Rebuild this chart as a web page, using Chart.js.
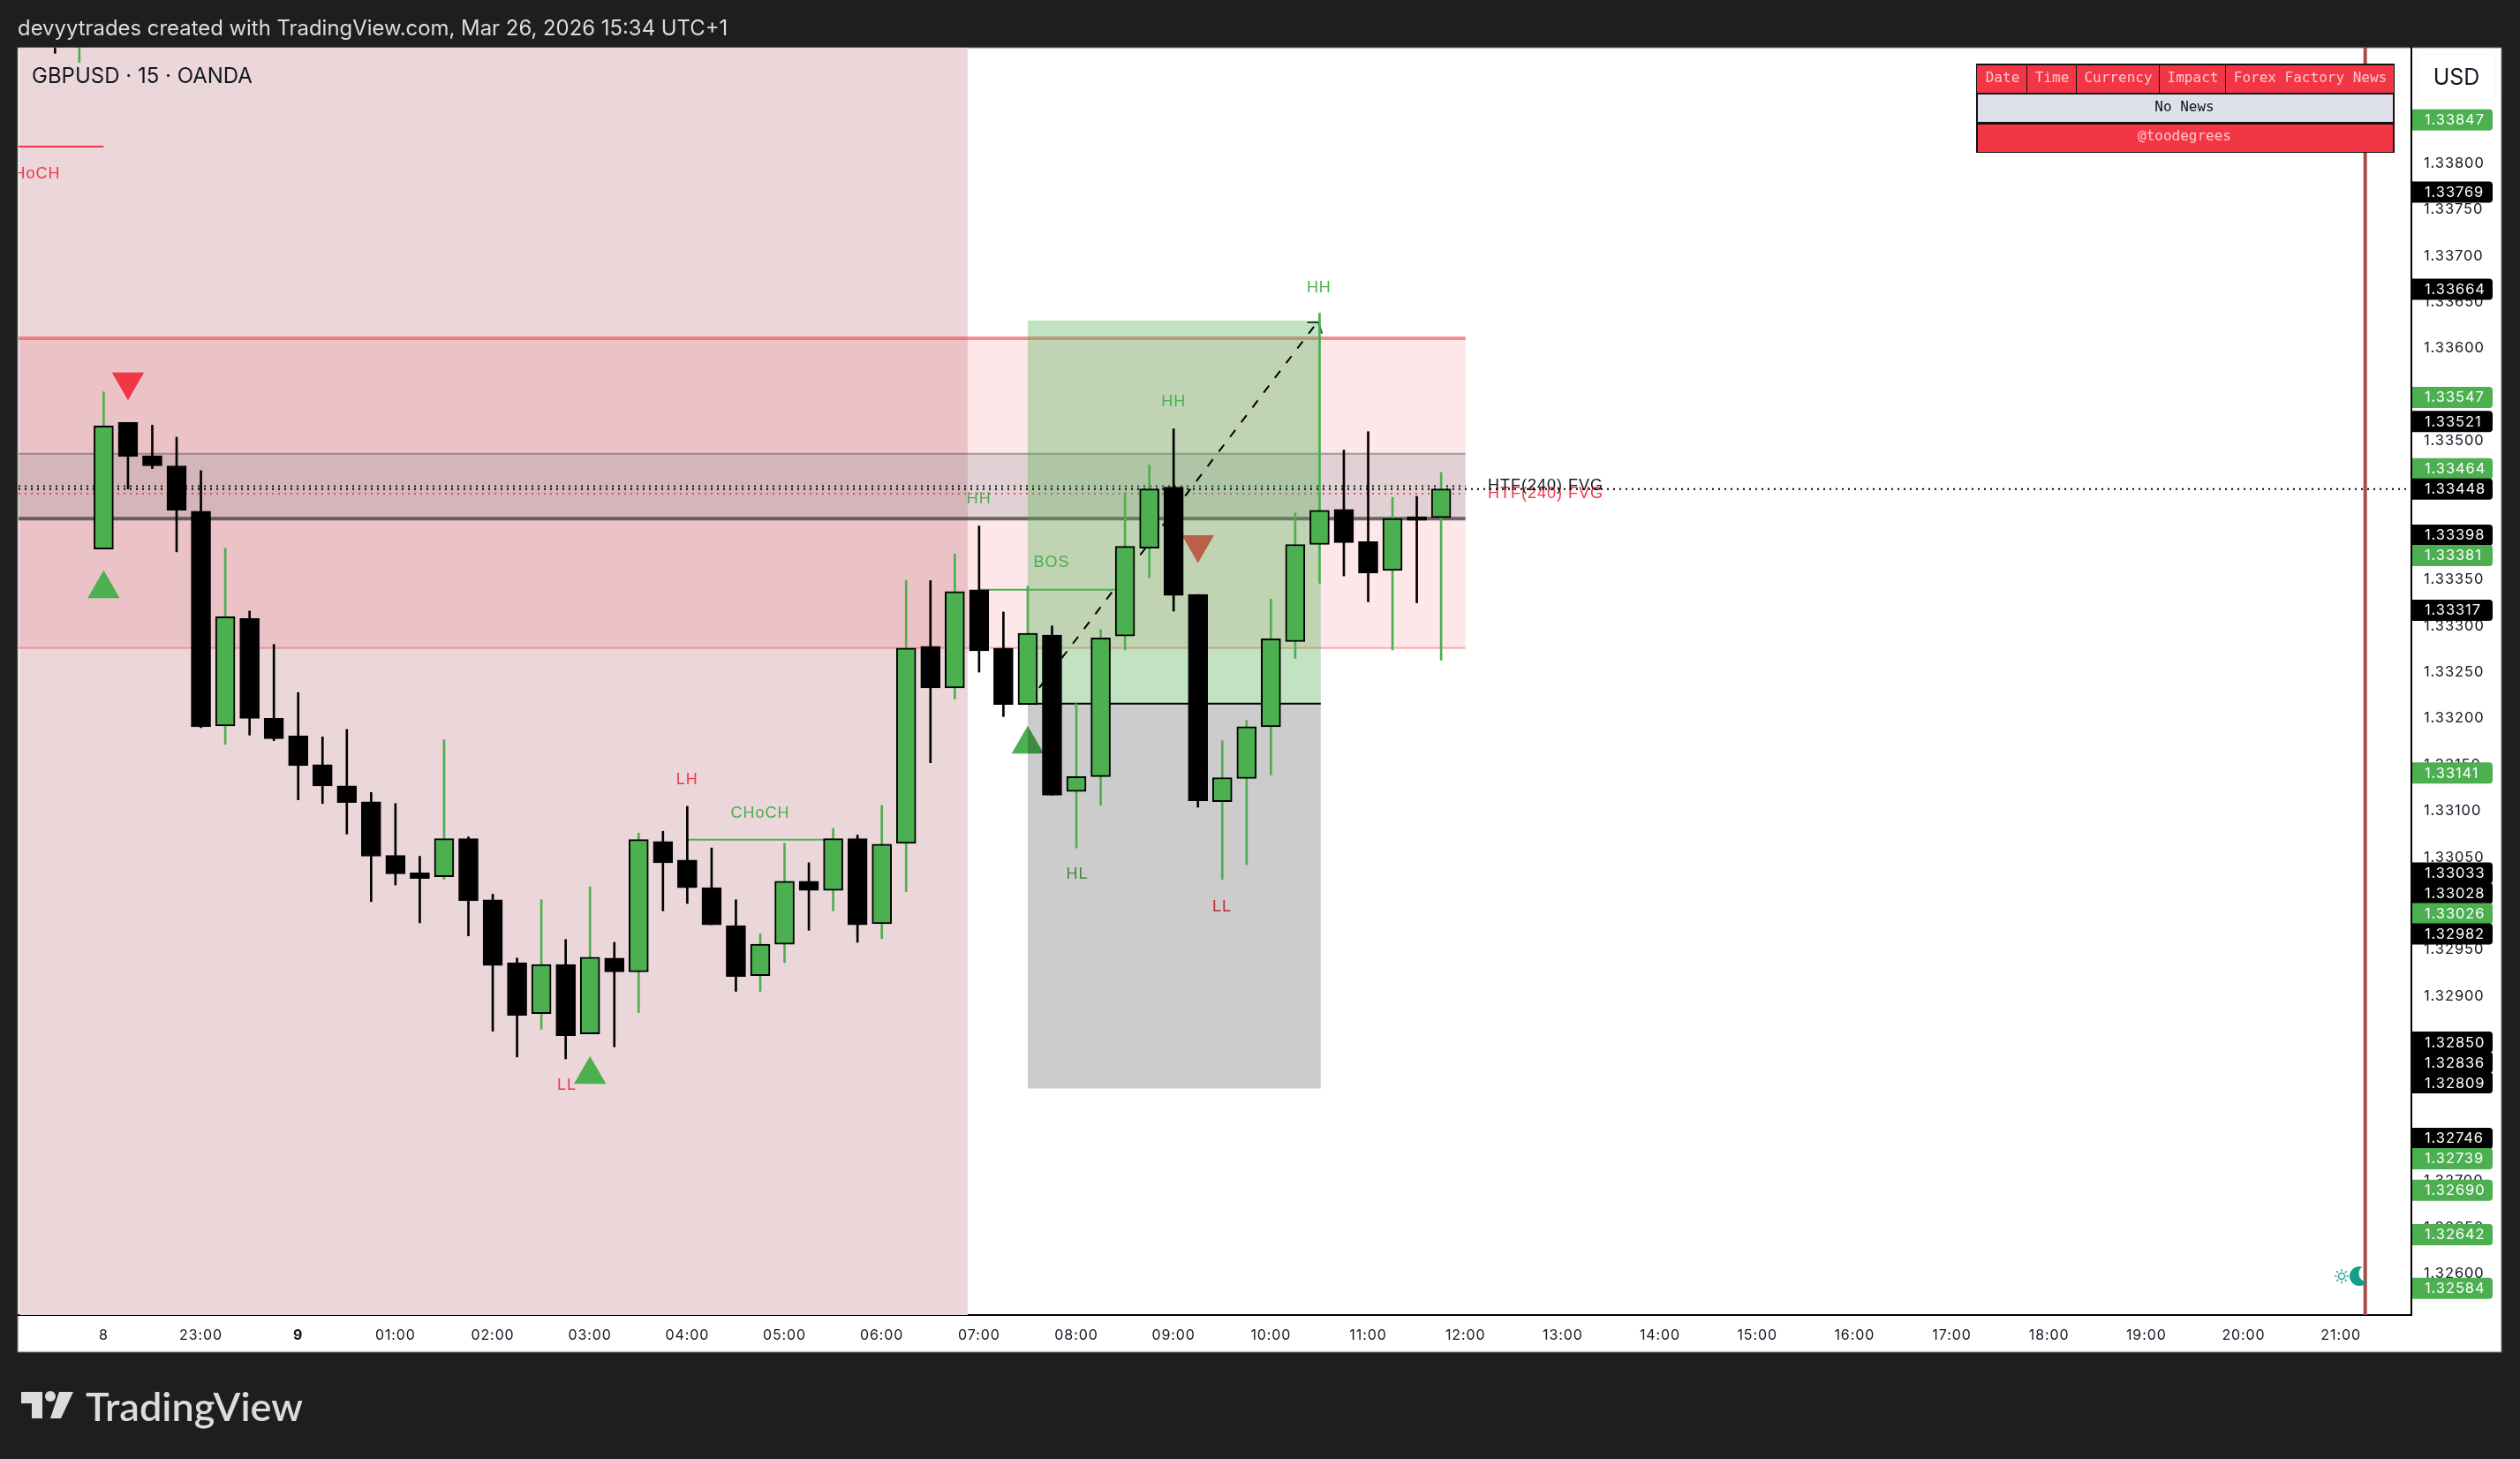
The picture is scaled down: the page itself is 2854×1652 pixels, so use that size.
<!DOCTYPE html>
<html>
<head>
<meta charset="utf-8">
<title>GBPUSD 15 OANDA</title>
<script src="https://cdn.jsdelivr.net/npm/chart.js@4/dist/chart.umd.min.js"></script>
<style>
  html, body { margin: 0; padding: 0; background: #1e1e1e; }
  canvas { display: block; }
</style>
</head>
<body>
<canvas id="chart" width="2854" height="1652"></canvas>
<script>
// first bar index of the arrays below (two bars hang off the top of the pane)
const FIRST_BAR = -2;

const opens = [1.33960, 1.33930, 1.33383, 1.33520, 1.33484, 1.33473, 1.33424, 1.33192, 1.33308, 1.33200, 1.33181, 1.33150,
  1.33127, 1.33110, 1.33052, 1.33033, 1.33029, 1.33070, 1.33004, 1.32936, 1.32881, 1.32934, 1.32859, 1.32941,
  1.32926, 1.33067, 1.33047, 1.33017, 1.32976, 1.32922, 1.32956, 1.33024, 1.33014, 1.33070, 1.32978, 1.33065,
  1.33278, 1.33233, 1.33339, 1.33276, 1.33215, 1.33290, 1.33121, 1.33137, 1.33289, 1.33384, 1.33450, 1.33334,
  1.33110, 1.33135, 1.33191, 1.33283, 1.33388, 1.33426, 1.33391, 1.33360, 1.33418, 1.33417];
const highs = [1.33970, 1.33980, 1.33553, 1.33520, 1.33517, 1.33504, 1.33468, 1.33384, 1.33316, 1.33280, 1.33228, 1.33180,
  1.33188, 1.33120, 1.33108, 1.33051, 1.33177, 1.33072, 1.33010, 1.32941, 1.33004, 1.32961, 1.33018, 1.32958,
  1.33076, 1.33078, 1.33105, 1.33060, 1.33004, 1.32967, 1.33065, 1.33044, 1.33081, 1.33074, 1.33106, 1.33349,
  1.33349, 1.33378, 1.33408, 1.33315, 1.33343, 1.33300, 1.33216, 1.33296, 1.33444, 1.33474, 1.33513, 1.33334,
  1.33176, 1.33198, 1.33329, 1.33422, 1.33638, 1.33490, 1.33510, 1.33439, 1.33440, 1.33466];
const lows = [1.33919, 1.33909, 1.33383, 1.33448, 1.33470, 1.33380, 1.33190, 1.33172, 1.33182, 1.33176, 1.33112, 1.33108,
  1.33075, 1.33002, 1.33020, 1.32979, 1.33026, 1.32965, 1.32862, 1.32834, 1.32864, 1.32832, 1.32859, 1.32845,
  1.32882, 1.32992, 1.33000, 1.32977, 1.32905, 1.32905, 1.32936, 1.32971, 1.32992, 1.32958, 1.32962, 1.33013,
  1.33152, 1.33221, 1.33250, 1.33202, 1.33215, 1.33117, 1.33060, 1.33106, 1.33274, 1.33352, 1.33316, 1.33104,
  1.33026, 1.33042, 1.33139, 1.33265, 1.33346, 1.33354, 1.33326, 1.33274, 1.33325, 1.33263];
const closes = [1.33935, 1.33970, 1.33516, 1.33483, 1.33473, 1.33425, 1.33191, 1.33310, 1.33200, 1.33178, 1.33149, 1.33127,
  1.33109, 1.33051, 1.33032, 1.33027, 1.33070, 1.33003, 1.32933, 1.32879, 1.32934, 1.32857, 1.32942, 1.32926,
  1.33069, 1.33044, 1.33017, 1.32977, 1.32921, 1.32956, 1.33024, 1.33014, 1.33070, 1.32977, 1.33064, 1.33276,
  1.33233, 1.33337, 1.33273, 1.33215, 1.33292, 1.33117, 1.33137, 1.33287, 1.33386, 1.33448, 1.33333, 1.33111,
  1.33136, 1.33191, 1.33286, 1.33388, 1.33425, 1.33390, 1.33357, 1.33416, 1.33414, 1.33448];

const timeLabels = ["8", "23:00", "9", "01:00", "02:00", "03:00", "04:00", "05:00", "06:00", "07:00", "08:00", "09:00",
  "10:00", "11:00", "12:00", "13:00", "14:00", "15:00", "16:00", "17:00", "18:00", "19:00", "20:00", "21:00"];
const priceTicks = [1.32600, 1.32650, 1.32700, 1.32750, 1.32800, 1.32850, 1.32900, 1.32950, 1.33000, 1.33050, 1.33100,
  1.33150, 1.33200, 1.33250, 1.33300, 1.33350, 1.33400, 1.33450, 1.33500, 1.33550, 1.33600, 1.33650, 1.33700, 1.33750, 1.33800];

const greenTags = [1.33847, 1.33547, 1.33464, 1.33381, 1.33141, 1.33026, 1.32739, 1.32690, 1.32642, 1.32584];
const blackTags = [1.33769, 1.33664, 1.33521, 1.33448, 1.33398, 1.33317, 1.33033, 1.33028, 1.32982, 1.32850, 1.32836, 1.32809, 1.32746];

// triangles, x in bars
const upMarkerX = [0, 20, 38];
const upMarkerY = [1.33340, 1.32815, 1.33172];
const downMarkerX = [1, 45];
const downMarkerY = [1.33564, 1.33388];

// structure labels
const labelText = ["CHoCH", "LH", "CHoCH", "LL", "HH", "BOS", "HH", "HH", "HL", "LL", "HTF(240) FVG", "HTF(240) FVG"];
const labelX = [-2.99, 24, 27, 19.05, 36, 38.98, 44, 49.98, 40.04, 45.99, 59.3, 59.3];
const labelY = [1.33788, 1.33134, 1.33097, 1.32803, 1.33437, 1.33368, 1.33542, 1.33665, 1.33031, 1.32996, 1.33443, 1.33451];
const labelKind = ["red", "red", "green", "red", "green", "green", "green", "green", "green", "red", "red", "black"];

// zones
const sessionZone = [-3.46, 35.53];
const fvgZone = [-3.5, 56, 1.33611, 1.33276];
const grayZone = [-3.5, 56, 1.33486, 1.33416];
const targetZone = [38, 50.05, 1.33630, 1.33216];
const stopZone = [38, 50.05, 1.33216, 1.32800];

const newsHeader = ["Date", "Time", "Currency", "Impact", "Forex Factory News"];

const GREEN = "#4caf50";
const RED = "#f23645";
const TICK_FONT = "Inter";
const LABEL_FONT = "'Liberation Sans'";

const barX = opens.map((_, i) => i + FIRST_BAR);
const isUp = opens.map((o, i) => closes[i] >= o);

function text(ctx, str, x, y, font, color, align, spacing) {
  ctx.font = font;
  ctx.fillStyle = color;
  ctx.textAlign = align || "left";
  ctx.textBaseline = "middle";
  ctx.letterSpacing = spacing || "0px";
  ctx.fillText(str, x, y);
  ctx.letterSpacing = "0px";
}

function zoneRect(chart, z, color) {
  const { x, y } = chart.scales;
  const ctx = chart.ctx;
  ctx.fillStyle = color;
  ctx.fillRect(x.getPixelForValue(z[0]), y.getPixelForValue(z[2]),
    x.getPixelForValue(z[1]) - x.getPixelForValue(z[0]), y.getPixelForValue(z[3]) - y.getPixelForValue(z[2]));
}

function hLine(chart, x0, x1, price, color, width) {
  const { x, y } = chart.scales;
  const ctx = chart.ctx;
  ctx.strokeStyle = color;
  ctx.lineWidth = width;
  ctx.beginPath();
  ctx.moveTo(x.getPixelForValue(x0), y.getPixelForValue(price));
  ctx.lineTo(x.getPixelForValue(x1), y.getPixelForValue(price));
  ctx.stroke();
}

// tags push each other apart like the real price axis does
function layoutTags(yScale) {
  const h = 23;
  const tags = greenTags.map(v => ({ v, fill: GREEN })).concat(blackTags.map(v => ({ v, fill: "#000" })));
  tags.sort((a, b) => b.v - a.v);
  tags.forEach(t => { t.y = yScale.getPixelForValue(t.v); });
  tags.forEach((t, i) => {
    const next = tags[i + 1];
    if (next && t.fill === GREEN && next.fill === "#000" && next.y - t.y < h) t.y = next.y - h;
  });
  tags.forEach((t, i) => {
    if (i && t.y < tags[i - 1].y + h) t.y = tags[i - 1].y + h;
  });
  return tags;
}

function drawNews(ctx) {
  const left = 2238, right = 2712, top = 72, bottom = 173;
  const rows = [73, 106, 139, 172];
  const cols = [2239, 2295, 2351, 2445, 2520, 2711];
  ctx.fillStyle = "#111";
  ctx.fillRect(left, top, right - left, bottom - top);
  for (let c = 0; c < 5; c++) {
    ctx.fillStyle = RED;
    ctx.fillRect(cols[c] + (c ? 1 : 0), rows[0] + 1, cols[c + 1] - cols[c] - (c ? 1 : 0), 31);
    text(ctx, newsHeader[c], (cols[c] + cols[c + 1]) / 2 + 1, 89, "16px 'DejaVu Sans Mono'", "#f9c9cd", "center");
  }
  ctx.fillStyle = "#dee1ea";
  ctx.fillRect(left + 2, rows[1] + 1, right - left - 4, 31);
  text(ctx, "No News", 2474, 122, "16px 'DejaVu Sans Mono'", "#111", "center");
  ctx.fillStyle = RED;
  ctx.fillRect(left + 2, rows[2] + 2, right - left - 4, 31);
  text(ctx, "@toodegrees", 2474, 155, "16px 'DejaVu Sans Mono'", "#f9c9cd", "center");
}

function drawSessionIcon(ctx) {
  const sx = 2652, sy = 1445;
  ctx.strokeStyle = "#26a69a";
  ctx.lineWidth = 1.5;
  ctx.beginPath();
  ctx.arc(sx, sy, 3.5, 0, Math.PI * 2);
  for (let i = 0; i < 8; i++) {
    const a = i * Math.PI / 4;
    ctx.moveTo(sx + Math.cos(a) * 5.5, sy + Math.sin(a) * 5.5);
    ctx.lineTo(sx + Math.cos(a) * 8, sy + Math.sin(a) * 8);
  }
  ctx.stroke();
  // crescent: outer circle, then a bite out of the upper right
  ctx.fillStyle = "rgba(8,153,129,0.95)";
  ctx.beginPath();
  ctx.arc(2672, 1445, 11, -0.5 * Math.PI, 0.2 * Math.PI, true);
  ctx.arc(2681, 1442, 9.5, 0.5 * Math.PI, 1.3 * Math.PI, false);
  ctx.closePath();
  ctx.fill();
}

function drawLogo(ctx) {
  ctx.fillStyle = "#dcdcdc";
  ctx.beginPath();
  ctx.moveTo(24, 1576); ctx.lineTo(48, 1576); ctx.lineTo(48, 1606); ctx.lineTo(36, 1606);
  ctx.lineTo(36, 1589); ctx.lineTo(24, 1589);
  ctx.closePath();
  ctx.moveTo(67, 1576); ctx.lineTo(83, 1576); ctx.lineTo(69, 1606); ctx.lineTo(57, 1606);
  ctx.closePath();
  ctx.fill();
  ctx.beginPath();
  ctx.arc(57, 1581, 6, 0, Math.PI * 2);
  ctx.fill();
  text(ctx, "TradingView", 97, 1594, "600 45px 'Lato'", "#dcdcdc");
}

const panePlugin = {
  id: "pane",
  beforeDraw(chart) {
    const ctx = chart.ctx;
    ctx.fillStyle = "#1e1e1e";
    ctx.fillRect(0, 0, chart.width, chart.height);
    ctx.fillStyle = "#fff";
    ctx.fillRect(20, 54, 2813, 1477);
    ctx.strokeStyle = "#777";
    ctx.lineWidth = 1;
    ctx.strokeRect(20, 54, 2813, 1477);
    ctx.letterSpacing = "0.9px";
  },
  beforeDatasetsDraw(chart) {
    const { ctx, chartArea: a, scales } = chart;
    ctx.letterSpacing = "0px";
    ctx.save();
    ctx.beginPath();
    ctx.rect(a.left, a.top, a.right - a.left, a.bottom - a.top);
    ctx.clip();
    zoneRect(chart, [sessionZone[0], sessionZone[1], scales.y.max, scales.y.min], "#ebd7d9");
    zoneRect(chart, fvgZone, "rgba(242,54,69,0.12)");
    hLine(chart, fvgZone[0], fvgZone[1], fvgZone[2], "rgba(242,54,69,0.55)", 4);
    hLine(chart, fvgZone[0], fvgZone[1], fvgZone[3], "rgba(242,54,69,0.38)", 2);
    zoneRect(chart, grayZone, "rgba(120,123,134,0.2)");
    hLine(chart, grayZone[0], grayZone[1], grayZone[2], "rgba(70,70,70,0.45)", 2);
    hLine(chart, grayZone[0], grayZone[1], grayZone[3], "rgba(50,50,50,0.7)", 4);
    labelText.forEach((t, i) => {
      const color = labelKind[i] === "red" ? RED : labelKind[i] === "green" ? GREEN : "#131722";
      text(ctx, t, scales.x.getPixelForValue(labelX[i]), scales.y.getPixelForValue(labelY[i]),
        "18px " + LABEL_FONT, color, "center", "1px");
    });
    ctx.restore();
  },
  // the position box sits over the triangles and labels, under the candles
  beforeDatasetDraw(chart, args) {
    if (chart.data.datasets[args.index].id !== "dash") return;
    zoneRect(chart, targetZone, "rgba(76,175,80,0.35)");
    zoneRect(chart, stopZone, "rgba(0,0,0,0.2)");
    hLine(chart, targetZone[0], targetZone[1], targetZone[3], "#000", 2);
  },
  afterDatasetsDraw(chart) {
    const ctx = chart.ctx;
    // the session's crescent blends with the red line, so it goes under the tags
    drawSessionIcon(ctx);
    const tags = layoutTags(chart.scales.y);
    tags.forEach(t => {
      ctx.fillStyle = t.fill;
      ctx.beginPath();
      ctx.roundRect(2732, t.y - 12, 91, 24, [0, 4, 4, 0]);
      ctx.fill();
      text(ctx, t.v.toFixed(5), 2746, t.y + 0.5, "16.5px " + TICK_FONT, "#fff", "left", "0.9px");
    });
    ctx.fillStyle = "#fff";
    ctx.strokeStyle = "#f0f3fa";
    ctx.lineWidth = 1;
    ctx.beginPath();
    ctx.roundRect(2738, 61, 88, 52, 8);
    ctx.fill();
    ctx.stroke();
    text(ctx, "USD", 2782, 88, "25px " + TICK_FONT, "#131722", "center");
    text(ctx, "devyytrades created with TradingView.com, Mar 26, 2026 15:34 UTC+1", 20, 33,
      "23.9px " + TICK_FONT, "#dcdcdc");
    text(ctx, "GBPUSD · 15 · OANDA", 36, 87, "24px " + TICK_FONT, "#131722");
    drawNews(ctx);
    drawLogo(ctx);
  }
};

new Chart(document.getElementById("chart"), {
  type: "bar",
  plugins: [panePlugin],
  data: {
    datasets: [
      { type: "line", id: "dot1", order: 9, data: [{ x: -3.5, y: 1.33451 }, { x: 56, y: 1.33451 }],
        borderColor: "#131722", borderWidth: 2, borderDash: [2, 5], pointRadius: 0 },
      { type: "line", id: "dot2", order: 9, data: [{ x: -3.5, y: 1.33443 }, { x: 56, y: 1.33443 }],
        borderColor: "rgba(242,54,69,0.85)", borderWidth: 2, borderDash: [2, 5], pointRadius: 0 },
      { type: "line", id: "up", order: 8, showLine: false, data: upMarkerX.map((x, i) => ({ x, y: upMarkerY[i] })),
        pointStyle: "triangle", pointRadius: 21, pointBackgroundColor: GREEN, pointBorderWidth: 0 },
      { type: "line", id: "down", order: 8, showLine: false, data: downMarkerX.map((x, i) => ({ x, y: downMarkerY[i] })),
        pointStyle: "triangle", pointRadius: 21, pointRotation: 180, pointBackgroundColor: RED, pointBorderWidth: 0 },
      // hook point for the position box: keep this the first dataset above the triangles
      { type: "line", id: "dash", order: 6, data: [{ x: 38.47, y: 1.33233 }, { x: 49.9, y: 1.33628 }],
        borderColor: "#000", borderWidth: 2, borderDash: [10, 11], pointRadius: 0 },
      { type: "line", id: "arrow", order: 5, data: [{ x: 49.5, y: 1.33628 }, { x: 49.95, y: 1.33628 }, { x: 50.1, y: 1.33616 }],
        borderColor: "rgba(0,0,0,0.75)", borderWidth: 2, pointRadius: 0 },
      { type: "line", id: "dot3", order: 5, data: [{ x: -3.5, y: 1.33448 }, { x: 94.9, y: 1.33448 }],
        borderColor: "#000", borderWidth: 2, borderDash: [2, 5], pointRadius: 0 },
      { type: "line", id: "choch", order: 5, data: [{ x: 24, y: 1.33069 }, { x: 30, y: 1.33069 }],
        borderColor: GREEN, borderWidth: 2, pointRadius: 0 },
      { type: "line", id: "bos", order: 5, data: [{ x: 36, y: 1.33339 }, { x: 42, y: 1.33339 }],
        borderColor: GREEN, borderWidth: 2, pointRadius: 0 },
      { type: "line", id: "choch2", order: 5, data: [{ x: -3.5, y: 1.33818 }, { x: 0, y: 1.33818 }],
        borderColor: RED, borderWidth: 2, pointRadius: 0 },
      { type: "line", id: "now", order: 5, data: [{ x: 93, y: 1.32555 }, { x: 93, y: 1.33925 }],
        borderColor: "#a84b4b", borderWidth: 4, pointRadius: 0 },
      { id: "wicks", order: 2, grouped: false, barThickness: 2, borderWidth: 0,
        data: barX.map((x, i) => ({ x, y: [lows[i], highs[i]] })),
        backgroundColor: isUp.map(u => (u ? GREEN : "#000")) },
      { id: "bodies", order: 1, grouped: false, barThickness: 22, borderWidth: 2, borderSkipped: false,
        data: barX.map((x, i) => ({ x, y: [opens[i], closes[i]] })),
        borderColor: "#000", backgroundColor: isUp.map(u => (u ? GREEN : "#000")) }
    ]
  },
  options: {
    responsive: false,
    animation: false,
    devicePixelRatio: 1,
    layout: { padding: { left: 21, right: 21, top: 54, bottom: 121 } },
    plugins: { legend: { display: false }, tooltip: { enabled: false } },
    elements: { line: { tension: 0, fill: false } },
    scales: {
      x: {
        type: "linear",
        offset: false,
        min: -3.5,
        max: 94.9,
        grid: { display: false, drawTicks: false },
        border: { display: true, color: "#000", width: 2 },
        afterBuildTicks(axis) { axis.ticks = timeLabels.map((_, i) => ({ value: i * 4 })); },
        afterFit(axis) { axis.height = 42; },
        ticks: {
          autoSkip: false,
          maxRotation: 0,
          padding: 14,
          color: "#131722",
          font(c) { return { family: TICK_FONT, size: 16, weight: c.tick && c.tick.value === 8 ? "bold" : "normal" }; },
          callback(v) { return timeLabels[v / 4]; }
        }
      },
      y: {
        type: "linear",
        position: "right",
        min: 1.325551,
        max: 1.33925,
        grid: { display: false, drawTicks: false },
        border: { display: true, color: "#000", width: 2 },
        afterBuildTicks(axis) { axis.ticks = priceTicks.map(value => ({ value })); },
        afterFit(axis) { axis.width = 102; },
        ticks: {
          autoSkip: false,
          padding: 14,
          color: "#131722",
          font: { family: TICK_FONT, size: 16.5 },
          callback(v) { return v.toFixed(5); }
        }
      }
    }
  }
});
</script>
</body>
</html>
